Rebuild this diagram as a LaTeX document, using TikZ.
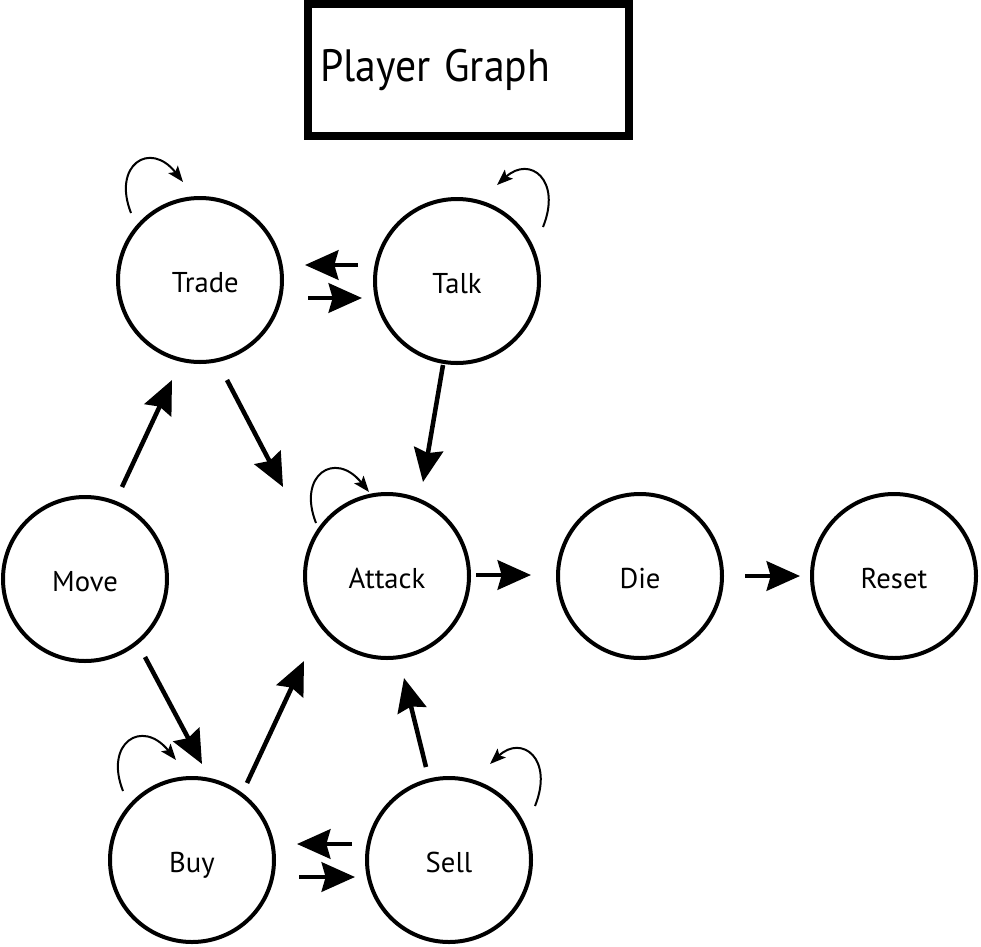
\documentclass[tikz,border=0pt]{standalone}
\usepackage{fontspec}
\setmainfont{PT Sans}
\usetikzlibrary{arrows.meta,calc}
\begin{document}
\begin{tikzpicture}[x=0.75pt,y=-0.75pt,
  state/.style={circle,draw,line width=3pt,minimum size=123pt,inner sep=0pt,text height=19pt,text depth=0pt,font=\fontsize{21.5}{26}\selectfont},
  bigarr/.style={line width=3.4pt,-{Stealth[length=25pt,width=22pt,inset=3pt]}},
  selfloop/.style={line width=1.5pt,-{Stealth[length=12pt,width=9pt,inset=2.5pt]}},
  titlebox/.style={draw,line width=6pt,minimum width=240.75pt,minimum height=99pt,inner xsep=9pt,inner ysep=0pt,text width=222.75pt,align=left,font=\fontsize{34}{40}\selectfont}]
\useasboundingbox (0,0) rectangle (981,946);

\node[titlebox] (title) at (468.5,70) {\raisebox{-2pt}{\scalebox{0.92}[1]{Player Graph}}};

\node[state] (trade)  at (200,280) {\hspace{8pt}Trade};
\node[state] (talk)   at (457,281) {Talk};
\node[state] (attack) at (387,576) {Attack};
\node[state] (move)   at (85,579)  {Move};
\node[state] (die)    at (640,576) {Die};
\node[state] (reset)  at (894,576) {Reset};
\node[state] (buy)    at (192,860) {Buy};
\node[state] (sell)   at (449,860) {Sell};

% main transitions
\draw[bigarr] ($(talk)+(-99,-16)$) -- ($(trade)+(105,-15)$);
\draw[bigarr] ($(trade)+(108,18)$) -- ($(talk)+(-95,17)$);
\draw[bigarr] ($(trade)+(27,100)$) -- ($(attack)+(-104,-89)$);
\draw[bigarr] ($(talk)+(-14,84)$) -- ($(attack)+(36,-94)$);
\draw[bigarr] ($(move)+(37,-92)$) -- ($(trade)+(-28,100)$);
\draw[bigarr] ($(move)+(60,78)$) -- ($(buy)+(10,-96)$);
\draw[bigarr] ($(buy)+(55,-77)$) -- ($(attack)+(-83,85)$);
\draw[bigarr] ($(sell)+(-23,-93)$) -- ($(attack)+(17,102)$);
\draw[bigarr] ($(sell)+(-97,-16)$) -- ($(buy)+(105,-16)$);
\draw[bigarr] ($(buy)+(107,17)$) -- ($(sell)+(-94,17)$);
\draw[bigarr] ($(attack)+(89,-1)$) -- ($(die)+(-109,-1)$);
\draw[bigarr] ($(die)+(105,0)$) -- ($(reset)+(-94,0)$);

% self loops
\draw[selfloop] ($(trade)+(-69,-67)$) .. controls ($(trade)+(-88,-115)$) and ($(trade)+(-50,-140)$) .. ($(trade)+(-17,-98)$);
\draw[selfloop] ($(attack)+(-71,-53)$) .. controls ($(attack)+(-90,-101)$) and ($(attack)+(-52,-126)$) .. ($(attack)+(-18,-84)$);
\draw[selfloop] ($(buy)+(-69,-69)$) .. controls ($(buy)+(-88,-117)$) and ($(buy)+(-50,-142)$) .. ($(buy)+(-16,-100)$);
\draw[selfloop] ($(talk)+(86,-54)$) .. controls ($(talk)+(105,-101)$) and ($(talk)+(73,-126)$) .. ($(talk)+(40,-96)$);
\draw[selfloop] ($(sell)+(86,-54)$) .. controls ($(sell)+(105,-101)$) and ($(sell)+(73,-126)$) .. ($(sell)+(41,-96)$);
\end{tikzpicture}
\end{document}
